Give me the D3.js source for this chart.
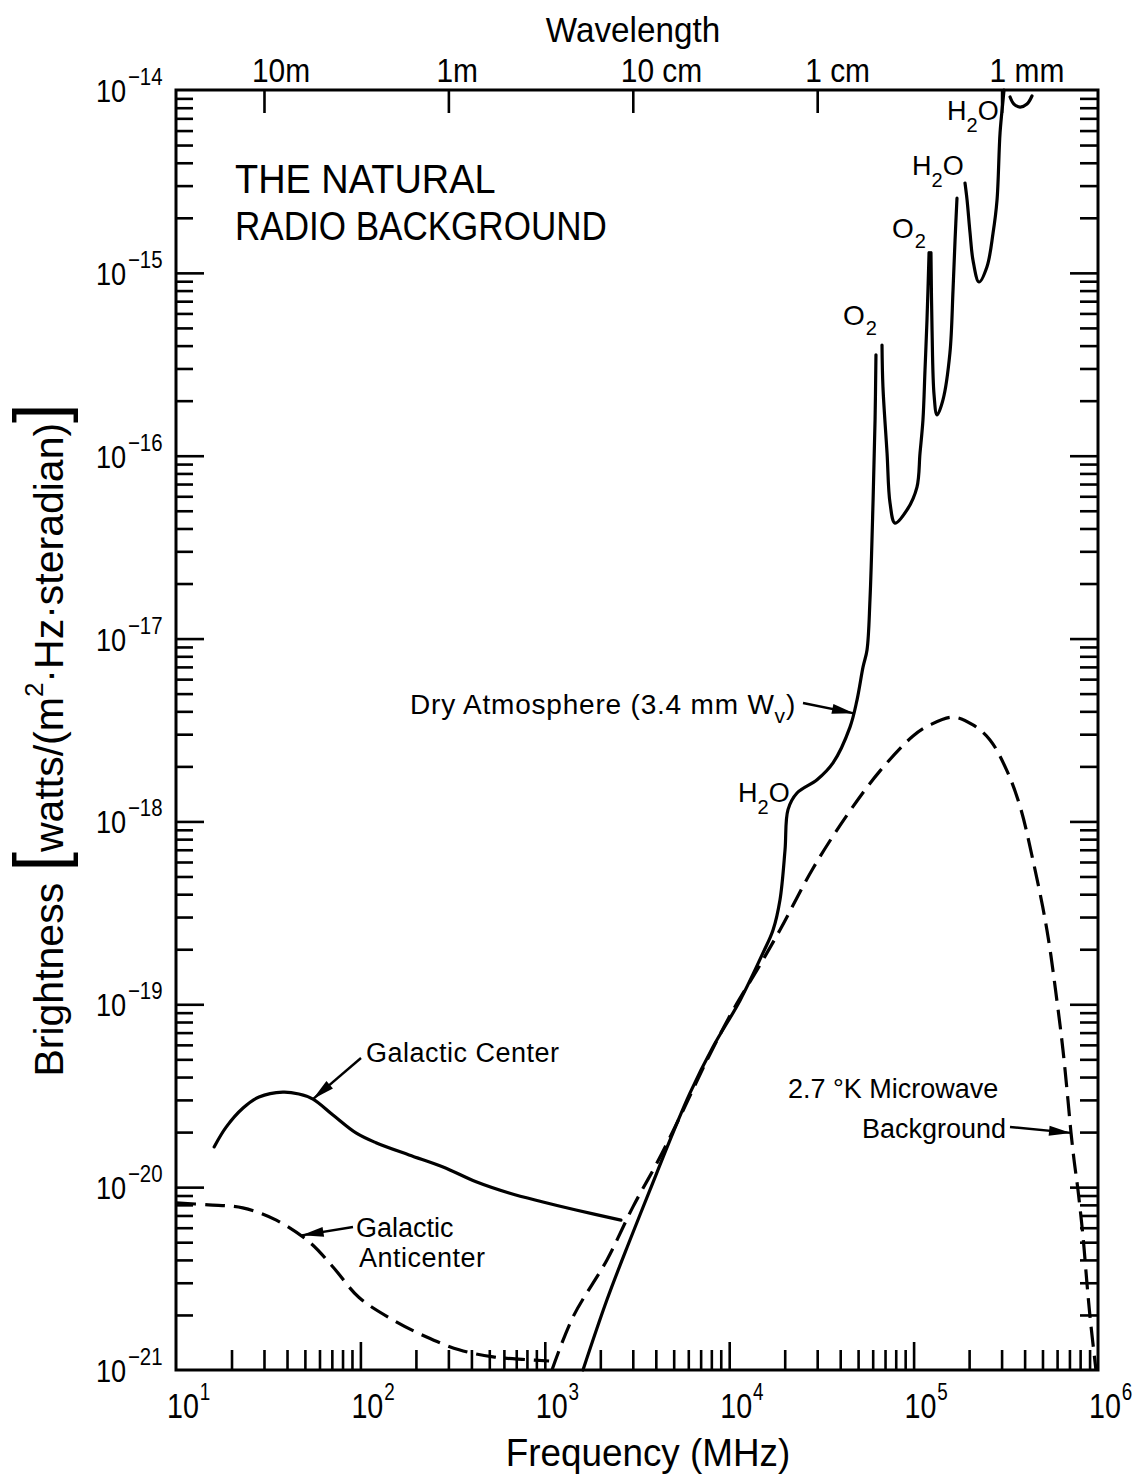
<!DOCTYPE html>
<html><head><meta charset="utf-8">
<script src="https://cdn.jsdelivr.net/npm/d3@7"></script>
<style>
body{margin:0;background:#fff}
svg{display:block}
text{font-family:"Liberation Sans",Arial,Helvetica,sans-serif;fill:#000}
</style></head>
<body><svg id="chart" width="1138" height="1477"></svg>
<script>
// ---------- data (frequency in MHz, brightness in W m^-2 Hz^-1 sr^-1) ----------
const galCenterFreq   = [16.1, 18.7, 23.1, 28.2, 38.0, 46.4, 55.3, 71.0, 94.6, 121.5, 183.6, 280.7, 424, 640, 977, 1476, 2588];
const galCenterBright = [1.66e-20, 2.13e-20, 2.71e-20, 3.11e-20, 3.31e-20, 3.23e-20, 3.03e-20, 2.48e-20, 1.98e-20, 1.75e-20, 1.5e-20, 1.29e-20, 1.07e-20, 9.29e-21, 8.3e-21, 7.5e-21, 6.6e-21];

const galAntiFreq   = [10, 15, 23, 35, 53, 71, 98, 150, 227, 343, 524, 791, 1055];
const galAntiBright = [8.2e-21, 8.0e-21, 7.7e-21, 6.6e-21, 5.0e-21, 3.66e-21, 2.5e-21, 1.88e-21, 1.52e-21, 1.29e-21, 1.18e-21, 1.14e-21, 1.12e-21];

const cmbFreq   = [1094, 1422, 2173, 3006, 4055, 5405, 7580, 10500, 14160, 18850, 28450, 43500, 65760, 99300, 122700, 163700, 210000, 259600, 321000, 377600, 443700, 528500, 599300, 645700, 687100, 714000, 741400, 778700, 829500, 871000, 905400, 975000];
const cmbBright = [1.0e-21, 1.95e-21, 4.0e-21, 7.8e-21, 1.355e-20, 2.42e-20, 4.95e-20, 9.3e-20, 1.54e-19, 2.55e-19, 5.53e-19, 1.08e-18, 1.89e-18, 2.93e-18, 3.37e-18, 3.72e-18, 3.37e-18, 2.79e-18, 1.89e-18, 1.21e-18, 6.15e-19, 2.55e-19, 1.04e-19, 5.62e-20, 3.0e-20, 1.98e-20, 1.41e-20, 9.66e-21, 5.35e-21, 2.99e-21, 1.95e-21, 1.0e-21];

// dry atmosphere; null marks a break in the pen line at each absorption line
const atmFreq = [1611, 2173, 2897, 3719, 4955, 6124, 8163, 11450, 15250, 17290, 18850, 20080, 20840, 23320, 29950, 36560, 45190, 49320, 53200, 55900, 58000, 60300, 61800, 62500, 62500,
  67400, 68200, 71800, 74500, 79300, 92100, 104300, 108300, 112400, 115300, 118200, 121300, 121300,
  124200, 125900, 129100, 134000, 144300, 157400, 163600, 167800, 171900, 171900,
  190000, 195000, 202400, 210000, 226300, 250000, 269700, 283400, 294300, 305600, 309300, 309300,
  333600, 350000, 377600, 412000, 438500];
const atmBright = [1.0e-21, 2.42e-21, 5.14e-21, 9.66e-21, 1.98e-20, 3.27e-20, 5.84e-20, 1.05e-19, 1.91e-19, 2.55e-19, 3.72e-19, 6.98e-19, 1.16e-18, 1.43e-18, 1.69e-18, 2.09e-18, 3.28e-18, 4.61e-18, 7.0e-18, 8.67e-18, 1.63e-17, 5.73e-17, 1.57e-16, 3.56e-16, null,
  4.03e-16, 2.38e-16, 1.03e-16, 5.51e-17, 4.28e-17, 5.05e-17, 6.74e-17, 1.03e-16, 1.57e-16, 2.94e-16, 5.52e-16, 1.29e-15, null,
  1.29e-15, 4.88e-16, 2.15e-16, 1.67e-16, 2.02e-16, 3.65e-16, 8.05e-16, 1.51e-15, 2.56e-15, null,
  3.1e-15, 2.5e-15, 1.65e-15, 1.17e-15, 8.91e-16, 1.08e-15, 1.65e-15, 2.5e-15, 5.82e-15, 8.8e-15, 1.0e-14, null,
  9.16e-15, 8.38e-15, 8.07e-15, 8.38e-15, 9.27e-15];

const xDecades = [1, 2, 3, 4, 5, 6];
const yDecades = [-14, -15, -16, -17, -18, -19, -20, -21];
const waveTicksMHz = [30, 300, 3000, 30000, 300000];
const waveLabels = ["10m", "1m", "10 cm", "1 cm", "1 mm"];

// ---------- setup ----------
const svg = d3.select("#chart");
const L = 176, R = 1098, T = 90, B = 1370;
const x = d3.scaleLog().domain([10, 1e6]).range([L, R]);
const y = d3.scaleLog().domain([1e-21, 1e-14]).range([B, T]);

function rich(g, px, py, segs, o) {
  let tr = `translate(${px},${py})`;
  if (o.rot) tr += ` rotate(${o.rot})`;
  if (o.sx) tr += ` scale(${o.sx},1)`;
  const t = g.append("text").attr("transform", tr)
    .attr("font-size", o.size).attr("text-anchor", o.anchor || "start");
  if (o.ls) t.attr("letter-spacing", o.ls);
  let cur = 0;
  segs.forEach(s => {
    const sh = s.shift || 0;
    const ts = t.append("tspan").attr("dy", sh - cur).text(s.t);
    if (s.size) ts.attr("font-size", s.size);
    if (s.dx) ts.attr("dx", s.dx);
    cur = sh;
  });
  return t;
}

// ---------- axes / ticks ----------
const minorX = [], majorX = [];
for (let k = 1; k <= 5; k++) { for (let m = 2; m <= 9; m++) minorX.push(m * Math.pow(10, k)); if (k > 1) majorX.push(Math.pow(10, k)); }
const minorY = [], majorY = [];
for (let k = -21; k <= -15; k++) { for (let m = 2; m <= 9; m++) minorY.push(m * Math.pow(10, k)); if (k > -21) majorY.push(Math.pow(10, k)); }

function styleAxis(g) {
  g.select(".domain").remove();
  g.selectAll("line").attr("stroke", "#000").attr("stroke-width", 2.6);
  g.selectAll("text").remove();
}
svg.append("g").attr("transform", `translate(0,${B})`).call(d3.axisBottom(x).tickValues(minorX).tickSize(-20).tickSizeOuter(0)).call(styleAxis);
svg.append("g").attr("transform", `translate(0,${B})`).call(d3.axisBottom(x).tickValues(majorX).tickSize(-28).tickSizeOuter(0)).call(styleAxis);
svg.append("g").attr("transform", `translate(${L},0)`).call(d3.axisLeft(y).tickValues(minorY).tickSize(-17).tickSizeOuter(0)).call(styleAxis);
svg.append("g").attr("transform", `translate(${L},0)`).call(d3.axisLeft(y).tickValues(majorY).tickSize(-28).tickSizeOuter(0)).call(styleAxis);
svg.append("g").attr("transform", `translate(${R},0)`).call(d3.axisRight(y).tickValues(minorY).tickSize(-18).tickSizeOuter(0)).call(styleAxis);
svg.append("g").attr("transform", `translate(${R},0)`).call(d3.axisRight(y).tickValues(majorY).tickSize(-28).tickSizeOuter(0)).call(styleAxis);
svg.append("g").attr("transform", `translate(0,${T})`).call(d3.axisTop(x).tickValues(waveTicksMHz).tickSize(-23).tickSizeOuter(0)).call(styleAxis);

svg.append("rect").attr("x", L).attr("y", T).attr("width", R - L).attr("height", B - T)
  .attr("fill", "none").attr("stroke", "#000").attr("stroke-width", 3);

// tick labels
const lab = svg.append("g");
xDecades.forEach(k => {
  rich(lab, x(Math.pow(10, k)) - 9, B + 48, [{t: "10"}, {t: String(k), shift: -18, size: 23, dx: 1}], {size: 35, sx: 0.82});
});
yDecades.forEach(k => {
  rich(lab, 96, y(Math.pow(10, k)) + 12, [{t: "10"}, {t: "\u2212" + Math.abs(k), shift: -17, size: 24, dx: 2}], {size: 32, sx: 0.85});
});
waveTicksMHz.forEach((v, i) => {
  rich(lab, x(v) - 12, 82, [{t: waveLabels[i]}], {size: 34, sx: 0.88});
});

// axis titles
rich(lab, 633, 42, [{t: "Wavelength"}], {size: 35, anchor: "middle", sx: 0.95});
rich(lab, 648, 1466, [{t: "Frequency (MHz)"}], {size: 38, anchor: "middle", sx: 0.97});
rich(lab, 63, 740, [
  {t: "Brightness "}, {t: "[", size: 70}, {t: "watts/(m"}, {t: "2", shift: -20, size: 26},
  {t: "\u00B7Hz\u00B7steradian)", shift: 0}, {t: "]", size: 70}
], {size: 41, anchor: "middle", rot: -90});

// title
rich(lab, 235, 193, [{t: "THE NATURAL"}], {size: 41, sx: 0.925});
rich(lab, 235, 240, [{t: "RADIO BACKGROUND"}], {size: 41, sx: 0.855});

// ---------- curves ----------
const plot = svg.append("g");
const mk = (fs, bs) => fs.map((f, i) => ({f, b: bs[i]}));
const line = d3.line().defined(d => d.b != null).x(d => x(d.f)).y(d => y(d.b)).curve(d3.curveCatmullRom.alpha(0.5));

plot.append("path").attr("d", line(mk(galCenterFreq, galCenterBright)))
  .attr("fill", "none").attr("stroke", "#000").attr("stroke-width", 3.2).attr("stroke-linecap", "round");
plot.append("path").attr("d", line(mk(galAntiFreq, galAntiBright)))
  .attr("fill", "none").attr("stroke", "#000").attr("stroke-width", 3.2).attr("stroke-dasharray", "20,9");
plot.append("path").attr("d", line(mk(cmbFreq, cmbBright)))
  .attr("fill", "none").attr("stroke", "#000").attr("stroke-width", 3.2).attr("stroke-dasharray", "20,9");
plot.append("path").attr("d", line(mk(atmFreq, atmBright)))
  .attr("fill", "none").attr("stroke", "#000").attr("stroke-width", 3.2).attr("stroke-linecap", "round");

// ---------- annotations ----------
const ann = svg.append("g");
function arrow(x1, y1, x2, y2) {
  ann.append("line").attr("x1", x1).attr("y1", y1).attr("x2", x2).attr("y2", y2)
    .attr("stroke", "#000").attr("stroke-width", 2.4);
  const a = Math.atan2(y2 - y1, x2 - x1), len = 22, w = 5;
  const bx = x2 - len * Math.cos(a), by = y2 - len * Math.sin(a);
  const px = -Math.sin(a) * w, py = Math.cos(a) * w;
  ann.append("path").attr("d", `M${x2},${y2}L${bx + px},${by + py}L${bx - px},${by - py}Z`).attr("fill", "#000");
}
rich(ann, 366, 1062, [{t: "Galactic Center"}], {size: 27, ls: 0.5});
arrow(361, 1058, x(55.3), y(3.03e-20));
rich(ann, 356, 1237, [{t: "Galactic"}], {size: 27});
rich(ann, 359, 1267, [{t: "Anticenter"}], {size: 27, ls: 0.5});
arrow(353, 1227, x(48), y(5.45e-21));
rich(ann, 410, 714, [{t: "Dry Atmosphere (3.4 mm W"}, {t: "v", shift: 9, size: 21}, {t: ")", shift: 0}], {size: 28, ls: 0.8});
arrow(803, 703, x(47500), y(3.9e-18));
rich(ann, 788, 1098, [{t: "2.7 \u00B0K Microwave"}], {size: 27});
rich(ann, 1006, 1138, [{t: "Background"}], {size: 27, anchor: "end"});
arrow(1010, 1127, x(714000), y(1.98e-20));

// line identifications
rich(ann, 843, 325, [{t: "O"}, {t: "2", shift: 10, size: 20, dx: 1}], {size: 28});
rich(ann, 892, 238, [{t: "O"}, {t: "2", shift: 10, size: 20, dx: 1}], {size: 28});
rich(ann, 912, 175, [{t: "H"}, {t: "2", shift: 12, size: 20}, {t: "O", shift: 0}], {size: 27});
rich(ann, 947, 120, [{t: "H"}, {t: "2", shift: 12, size: 20}, {t: "O", shift: 0}], {size: 27});
rich(ann, 738, 802, [{t: "H"}, {t: "2", shift: 12, size: 20}, {t: "O", shift: 0}], {size: 27});
</script>
</body></html>
